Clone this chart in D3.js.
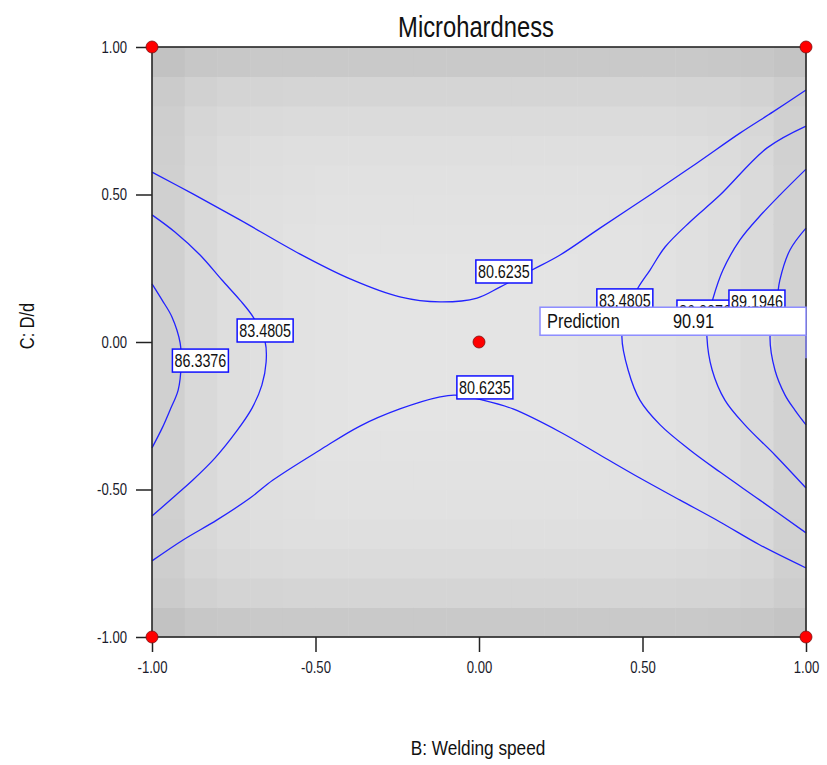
<!DOCTYPE html>
<html>
<head>
<meta charset="utf-8">
<script src="https://cdn.jsdelivr.net/npm/d3@7"></script>
<style>
  html, body { margin: 0; padding: 0; background: #fff; }
  svg { display: block; }
  text { font-family: "Liberation Sans", Arial, sans-serif; }
</style>
</head>
<body>
<svg id="chart" width="827" height="765"></svg>
<script>
// ---- Data -------------------------------------------------------------
const chartTitle = "Microhardness";
const xTitle = "B: Welding speed";
const yTitle = "C: D/d";

const tickValues = [-1, -0.5, 0, 0.5, 1];
const tickLabels = ["-1.00", "-0.50", "0.00", "0.50", "1.00"];

// Design points (B, C)
const designPoints = [[-1, 1], [1, 1], [-1, -1], [1, -1], [0, 0]];

// Background shading: darkening per column (B, left to right) and per row (C, bottom to top)
const colShade = [20, 11, 6, 4, 2, 1, 0, 0, 0, 0, 0, 0, 0, 1, 1, 2, 4, 6, 10, 18];
const rowShade = [27, 15, 9, 5, 3, 2, 1, 0, 0, 0, 0, 0, 0, 1, 2, 3, 5, 9, 15, 27];

// Contour lines of Microhardness, as (B, C) vertices
const contourUpper806 = [[-1, 0.576], [-0.875, 0.502], [-0.731, 0.414], [-0.547, 0.298], [-0.394, 0.214], [-0.242, 0.153], [-0.119, 0.136], [-0.006, 0.149], [0.064, 0.186], [0.162, 0.244], [0.248, 0.295], [0.370, 0.386], [0.532, 0.505], [0.667, 0.607], [0.798, 0.708], [0.899, 0.780], [1, 0.854]];
const contourLower806 = [[-1, -0.742], [-0.905, -0.671], [-0.801, -0.603], [-0.700, -0.529], [-0.630, -0.468], [-0.486, -0.366], [-0.364, -0.285], [-0.242, -0.227], [-0.119, -0.186], [-0.073, -0.180], [0.012, -0.197], [0.104, -0.227], [0.248, -0.305], [0.370, -0.383], [0.492, -0.461], [0.615, -0.536], [0.737, -0.610], [0.859, -0.688], [1, -0.766]];
const contourLeft835 = [[-1, 0.431], [-0.930, 0.373], [-0.853, 0.295], [-0.786, 0.210], [-0.731, 0.142], [-0.691, 0.085], [-0.654, 0], [-0.651, -0.068], [-0.664, -0.146], [-0.694, -0.224], [-0.743, -0.305], [-0.807, -0.393], [-0.875, -0.468], [-0.930, -0.522], [-1, -0.590]];
const contourLeft863 = [[-1, 0.197], [-0.969, 0.142], [-0.939, 0.085], [-0.914, -0.003], [-0.911, -0.078], [-0.920, -0.163], [-0.945, -0.231], [-0.969, -0.292], [-1, -0.359]];
const contourRight835 = [[1, 0.732], [0.881, 0.658], [0.737, 0.498], [0.645, 0.407], [0.569, 0.322], [0.523, 0.244], [0.486, 0.183], [0.450, 0.102], [0.437, 0.017], [0.456, -0.095], [0.492, -0.197], [0.554, -0.281], [0.645, -0.366], [0.737, -0.441], [0.859, -0.536], [1, -0.647]];
const contourRight863 = [[1, 0.586], [0.920, 0.498], [0.859, 0.427], [0.798, 0.346], [0.746, 0.244], [0.716, 0.149], [0.700, 0.075], [0.697, 0.017], [0.713, -0.095], [0.752, -0.197], [0.813, -0.281], [0.905, -0.383], [1, -0.495]];
const contourRight892 = [[1, 0.386], [0.951, 0.312], [0.920, 0.210], [0.911, 0.142], [0.890, 0.017], [0.905, -0.095], [0.936, -0.180], [0.966, -0.231], [1, -0.281]];

const contours = [contourUpper806, contourLower806, contourLeft835, contourLeft863, contourRight835, contourRight863, contourRight892];

// Contour labels: [B, C, text]
const contourLabels = [
  [0.076, 0.239, "80.6235"],
  [0.018, -0.154, "80.6235"],
  [-0.654, 0.039, "83.4805"],
  [-0.852, -0.063, "86.3376"],
  [0.446, 0.141, "83.4805"],
  [0.691, 0.103, "86.3376"],
  [0.850, 0.137, "89.1946"]
];

// Point prediction flag
const prediction = { B: 1.0, C: -0.055, label: "Prediction", value: "90.91" };

// ---- Layout -----------------------------------------------------------
const NARROW = 0.82;   // horizontal squeeze for a condensed sans look
const svg = d3.select("#chart");
const x = d3.scaleLinear().domain([-1, 1]).range([152, 806]);
const y = d3.scaleLinear().domain([-1, 1]).range([637, 47]);

// Condensed text helper: places text at (tx, ty), squeezed horizontally
function narrowText(parent, tx, ty, str, size, anchor, rotate) {
  const g = parent.append("g")
    .attr("transform", `translate(${tx},${ty})` + (rotate ? ` rotate(${rotate})` : "") + ` scale(${NARROW},1)`);
  return g.append("text")
    .attr("text-anchor", anchor || "start")
    .attr("font-size", size)
    .attr("fill", "#111")
    .text(str);
}

// Background cells
const nCells = colShade.length;
const step = 2 / nCells;
const cells = [];
for (let i = 0; i < nCells; i++) {
  for (let j = 0; j < rowShade.length; j++) {
    cells.push({ i, j, shade: Math.sqrt(colShade[i] ** 2 + rowShade[j] ** 2) });
  }
}
svg.append("g").selectAll("rect").data(cells).join("rect")
  .attr("x", d => x(-1 + d.i * step))
  .attr("y", d => y(-1 + (d.j + 1) * step))
  .attr("width", d => x(-1 + (d.i + 1) * step) - x(-1 + d.i * step) + 0.5)
  .attr("height", d => y(-1 + d.j * step) - y(-1 + (d.j + 1) * step) + 0.5)
  .attr("fill", d => { const g = Math.round(228 - d.shade); return `rgb(${g},${g},${g})`; });

// Contour lines
const line = d3.line().x(d => x(d[0])).y(d => y(d[1])).curve(d3.curveCatmullRom.alpha(0.5));
svg.append("g").selectAll("path").data(contours).join("path")
  .attr("d", line)
  .attr("fill", "none")
  .attr("stroke", "#2222ff")
  .attr("stroke-width", 1.3);

// Axes
const xAxis = d3.axisBottom(x).tickValues(tickValues).tickFormat((d, i) => tickLabels[i]).tickSize(15).tickPadding(10);
const yAxis = d3.axisLeft(y).tickValues(tickValues).tickFormat((d, i) => tickLabels[i]).tickSize(16).tickPadding(9);
const gx = svg.append("g").attr("transform", `translate(0,${y(-1)})`).call(xAxis);
const gy = svg.append("g").attr("transform", `translate(${x(-1)},0)`).call(yAxis);
[gx, gy].forEach(g => {
  g.select(".domain").remove();
  g.selectAll(".tick line").attr("stroke", "#222").attr("stroke-width", 1.5);
  g.selectAll(".tick text")
    .attr("font-family", "Liberation Sans, Arial, sans-serif")
    .attr("font-size", 16).attr("fill", "#1a1a2a")
    .attr("transform", `scale(${NARROW},1)`);
});
gy.selectAll(".tick text").attr("x", -25 / NARROW);

// Plot frame
svg.append("rect")
  .attr("x", x(-1)).attr("y", y(1))
  .attr("width", x(1) - x(-1)).attr("height", y(-1) - y(1))
  .attr("fill", "none").attr("stroke", "#262626").attr("stroke-width", 1.6);

// Contour labels
const lab = svg.append("g").selectAll("g").data(contourLabels).join("g")
  .attr("transform", d => `translate(${x(d[0])},${y(d[1])})`);
lab.append("rect")
  .attr("x", -28).attr("y", -11.5).attr("width", 56).attr("height", 23)
  .attr("fill", "#fff").attr("stroke", "#1010ff").attr("stroke-width", 1.5);
lab.append("text")
  .attr("text-anchor", "middle").attr("dy", "0.36em")
  .attr("transform", `scale(${NARROW},1)`)
  .attr("font-size", 17.5).attr("fill", "#111")
  .text(d => d[2]);

// Prediction flag
const px = x(prediction.B), py = y(prediction.C);
const flag = svg.append("g");
flag.append("line")
  .attr("x1", px).attr("x2", px).attr("y1", py - 23).attr("y2", py)
  .attr("stroke", "#8c8cff").attr("stroke-width", 1.5);
flag.append("rect")
  .attr("x", px - 266).attr("y", py - 51).attr("width", 266).attr("height", 28)
  .attr("fill", "#fff").attr("stroke", "#8c8cff").attr("stroke-width", 1.5);
narrowText(flag, px - 259, py - 30, prediction.label, 20);
narrowText(flag, px - 133, py - 30, prediction.value, 20);

// Design points
svg.append("g").selectAll("circle").data(designPoints).join("circle")
  .attr("cx", d => x(d[0])).attr("cy", d => y(d[1]))
  .attr("r", 6)
  .attr("fill", "#ff0000").attr("stroke", "#7a1010").attr("stroke-width", 0.8);

// Titles
narrowText(svg, 476, 37, chartTitle, 29, "middle");
narrowText(svg, 478, 755, xTitle, 21, "middle");
narrowText(svg, 34, 326, yTitle, 20, "middle", -90);
</script>
</body>
</html>
